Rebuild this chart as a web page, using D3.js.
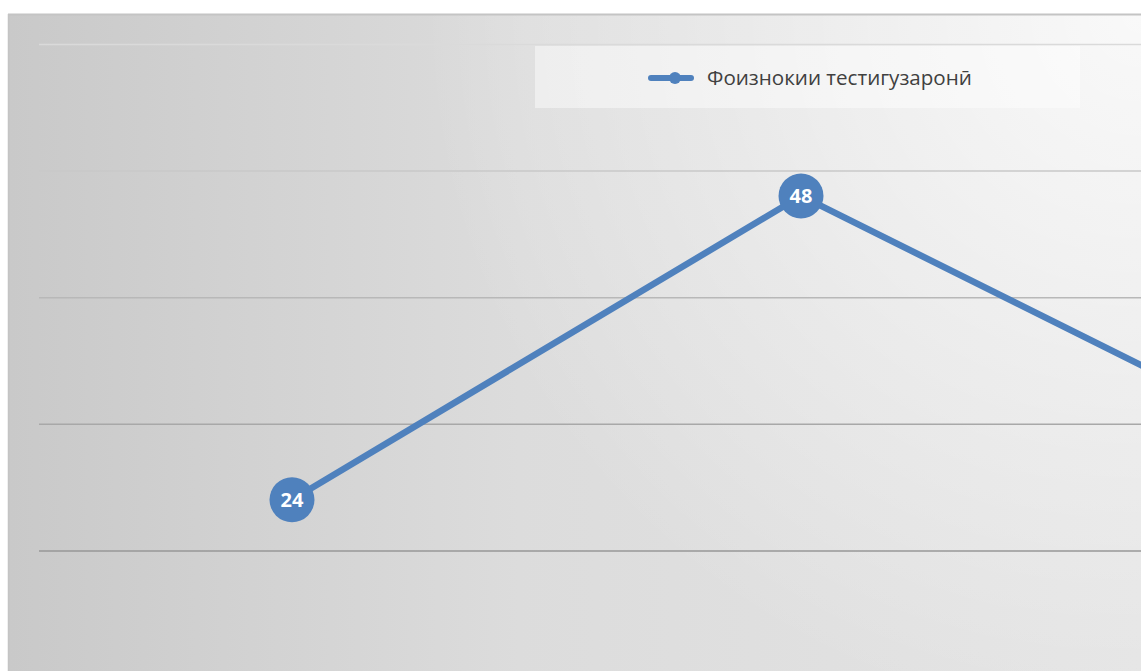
<!DOCTYPE html>
<html><head><meta charset="utf-8">
<script src="https://cdn.jsdelivr.net/npm/d3@7"></script>
<style>html,body{margin:0;padding:0;background:#fff;overflow:hidden}svg{display:block}</style>
</head><body>
<script>
const categories = ["1", "2", "3"];
const seriesName = "Фоизнокии тестигузаронӣ";
const values = [24, 48, 28];
const yTicks = [10, 20, 30, 40, 50, 60];

const W = 1141, H = 671;
const svg = d3.select("body").append("svg").attr("width", W).attr("height", H);
const defs = svg.append("defs");

const bg = defs.append("linearGradient").attr("id", "bg")
  .attr("gradientUnits", "userSpaceOnUse")
  .attr("x1", 9).attr("y1", 0).attr("x2", 1141).attr("y2", 0);
bg.append("stop").attr("offset", 0).attr("stop-color", "#c9c9c9");
bg.append("stop").attr("offset", 0.45).attr("stop-color", "#dcdcdc");
bg.append("stop").attr("offset", 1).attr("stop-color", "#e4e4e4");

const hl = defs.append("radialGradient").attr("id", "hl")
  .attr("gradientUnits", "userSpaceOnUse")
  .attr("cx", 1141).attr("cy", 14).attr("r", 720);
hl.append("stop").attr("offset", 0).attr("stop-color", "#fff").attr("stop-opacity", 0.78);
hl.append("stop").attr("offset", 1).attr("stop-color", "#fff").attr("stop-opacity", 0);

// chart area frame
svg.append("rect").attr("x", 9).attr("y", 14).attr("width", W).attr("height", H)
  .attr("fill", "url(#bg)");
svg.append("rect").attr("x", 9).attr("y", 14).attr("width", W).attr("height", H)
  .attr("fill", "url(#hl)");
svg.append("line").attr("x1", 8).attr("x2", W).attr("y1", 14.5).attr("y2", 14.5)
  .attr("stroke", "#c4c4c4").attr("stroke-width", 2);
svg.append("line").attr("x1", 8.5).attr("x2", 8.5).attr("y1", 14).attr("y2", H)
  .attr("stroke", "#c4c4c4").attr("stroke-width", 1.5);

const x = d3.scalePoint().domain(categories).range([37.5, 1564.5]).padding(0.5);
const y = d3.scaleLinear().domain([0, 60]).range([803.6, 44]);

// gridlines via axis
const gridColor = d3.scaleLinear().domain([44, 550]).range(["#dadada", "#979797"]).clamp(true);
const gAxis = svg.append("g").attr("transform", "translate(39,0)")
  .call(d3.axisLeft(y).tickValues(yTicks).tickSize(-1200).tickFormat(""));
gAxis.select(".domain").remove();
gAxis.selectAll(".tick line").attr("stroke", d => gridColor(y(d))).attr("stroke-width", 1.5);

// legend
const lg = svg.append("g");
lg.append("rect").attr("x", 535).attr("y", 46).attr("width", 545).attr("height", 62)
  .attr("fill", "#ffffff").attr("fill-opacity", 0.45);
lg.append("line").attr("x1", 651).attr("x2", 691).attr("y1", 78).attr("y2", 78)
  .attr("stroke", "#4f81bd").attr("stroke-width", 6).attr("stroke-linecap", "round");
lg.append("circle").attr("cx", 675).attr("cy", 78).attr("r", 6).attr("fill", "#4f81bd");
const lt = lg.append("text").attr("x", 707).attr("y", 84.5)
  .attr("font-family", "'Open Sans', 'Noto Sans', sans-serif").attr("font-size", 18)
  .attr("fill", "#404040").text(seriesName);
const tw = lt.node().getComputedTextLength();
if (tw > 0) lt.attr("font-size", 18 * 265 / tw);

// line
const line = d3.line().x((d, i) => x(categories[i])).y(d => y(d));
svg.append("path").datum(values).attr("d", line)
  .attr("fill", "none").attr("stroke", "#4f81bd").attr("stroke-width", 6.5)
  .attr("stroke-linejoin", "round");

const pts = svg.append("g").selectAll("g").data(values).join("g")
  .attr("transform", (d, i) => `translate(${x(categories[i])},${y(d)})`);
pts.append("circle").attr("r", 22.5).attr("fill", "#4f81bd");
pts.filter((d, i) => x(categories[i]) < W - 20)
  .append("text").attr("text-anchor", "middle").attr("dy", "0.37em")
  .attr("font-family", "'Open Sans', 'Noto Sans', sans-serif").attr("font-weight", "bold")
  .attr("font-size", 20).attr("fill", "#ffffff").text(d => d);
</script>
</body></html>
